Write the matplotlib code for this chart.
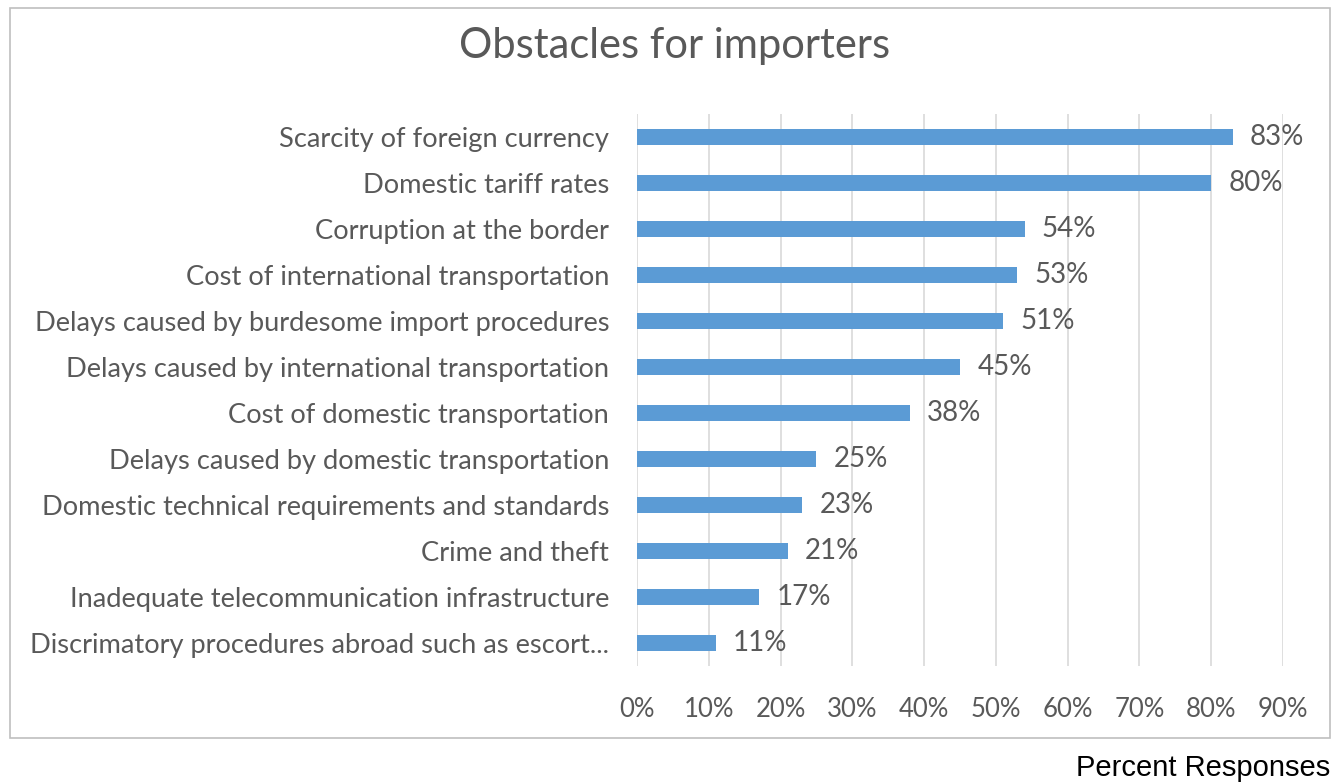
import matplotlib
matplotlib.use("Agg")
import matplotlib.pyplot as plt
import matplotlib.patches as mpatches

categories = [
    "Scarcity of foreign currency",
    "Domestic tariff rates",
    "Corruption at the border",
    "Cost of international transportation",
    "Delays caused by burdesome import procedures",
    "Delays caused by international transportation",
    "Cost of domestic transportation",
    "Delays caused by domestic transportation",
    "Domestic technical requirements and standards",
    "Crime and theft",
    "Inadequate telecommunication infrastructure",
    "Discrimatory procedures abroad such as escort...",
]
values = [83, 80, 54, 53, 51, 45, 38, 25, 23, 21, 17, 11]
ticks = [0, 10, 20, 30, 40, 50, 60, 70, 80, 90]

W, H = 1344, 784
fig = plt.figure(figsize=(W / 100, H / 100), dpi=100)
plt.rcParams['font.family'] = ['Lato', 'DejaVu Sans']

text_color = '#595959'
bar_color = '#5B9BD5'

# chart frame
fig.patches.append(mpatches.Rectangle((10 / W, 1 - 738 / H), 1320 / W, 730 / H,
                                      transform=fig.transFigure, fill=False,
                                      edgecolor='#BFBFBF', linewidth=1.2))

ax = fig.add_axes([637 / W, 1 - 666 / H, 646 / W, 552 / H])
y = list(range(len(categories)))
ax.barh(y, values, height=0.34, color=bar_color, zorder=2)
ax.set_ylim(len(categories) - 0.5, -0.5)
ax.set_xlim(0, 90)
ax.set_xticks(ticks)
ax.set_xticklabels([f"{t}%" for t in ticks])
ax.set_yticks(y)
ax.set_yticklabels(categories)
ax.grid(axis='x', color='#D9D9D9', linewidth=1.2, zorder=0)
for s in ax.spines.values():
    s.set_visible(False)
ax.tick_params(axis='both', length=0, colors=text_color)
ax.tick_params(axis='x', pad=22, labelsize=18.5)
ax.tick_params(axis='y', pad=20, labelsize=19.6)

for yi, v in zip(y, values):
    ax.text(v + 2.4, yi, f"{v}%", va='center', ha='left', fontsize=20, color=text_color)

fig.text(675 / W, 1 - 46 / H, "Obstacles for importers", ha='center', va='center',
         fontsize=30, color=text_color)
fig.text(1330 / W, 1 - 768 / H, "Percent Responses", ha='right', va='center',
         fontsize=21, color='black', family=['Liberation Sans', 'DejaVu Sans'])

fig.savefig("out.png", dpi=100)
